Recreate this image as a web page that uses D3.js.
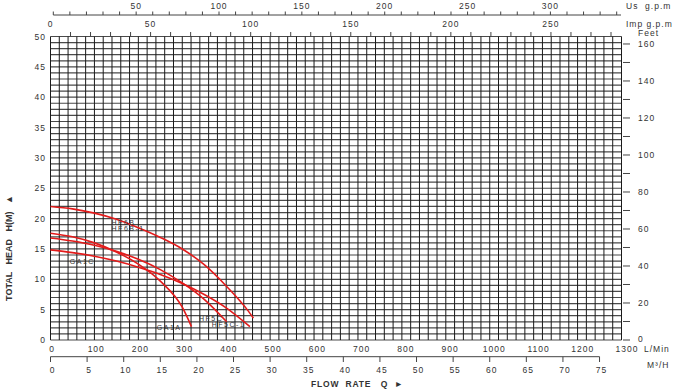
<!DOCTYPE html>
<html>
<head>
<meta charset="utf-8">
<script src="https://cdn.jsdelivr.net/npm/d3@7"></script>
<style>
  body { margin: 0; background: #fff; }
  svg { display: block; }
  text { font-family: "Liberation Sans", Arial, sans-serif; fill: #333; }
</style>
</head>
<body>
<svg id="chart" width="680" height="389"></svg>
<script>
// flow in L/min, head in metres
const flowLabels = [0, 100, 200, 300, 400, 500, 600, 700, 800, 900, 1000, 1100, 1200, 1300];
const headLabels = [0, 5, 10, 15, 20, 25, 30, 35, 40, 45, 50];
const feetLabels = [0, 20, 40, 60, 80, 100, 120, 140, 160];
const m3hLabels = [0, 5, 10, 15, 20, 25, 30, 35, 40, 45, 50, 55, 60, 65, 70, 75];
const usLabels = [50, 100, 150, 200, 250, 300];
const impLabels = [0, 50, 100, 150, 200, 250];

const hf6bQ = [0, 50, 100, 150, 200, 250, 300, 350, 400, 450, 462];
const hf6bH = [22.0, 21.6, 20.9, 19.9, 18.5, 16.9, 15.0, 12.4, 8.9, 4.8, 3.6];
const ga1aQ = [0, 50, 100, 150, 200, 250, 300, 321];
const ga1aH = [17.6, 17.0, 16.0, 14.5, 12.5, 9.7, 5.4, 2.2];
const hf5cQ = [0, 50, 100, 150, 200, 250, 300, 350, 401];
const hf5cH = [16.8, 16.3, 15.6, 14.6, 13.3, 11.6, 9.4, 6.7, 3.0];
const ga1cQ = [0, 50, 100, 150, 200, 250, 300, 350, 400, 454];
const ga1cH = [14.85, 14.4, 13.8, 13.0, 12.0, 10.8, 9.3, 7.5, 5.3, 2.2];

const curveNames = ["HF6B", "HF6B-1", "GA1C", "GA1A", "HF5C", "HF5C-1"];
const nameQ = [139, 139, 44, 242, 338, 367];
const nameH = [19.0, 18.0, 12.6, 1.7, 3.2, 2.2];

const svg = d3.select("#chart");

const x = d3.scaleLinear().domain([0, 1300]).range([50.5, 621.5]);
const xLab = d3.scaleLinear().domain([0, 1300]).range([52, 627]);
const y = d3.scaleLinear().domain([0, 50]).range([340, 36.5]);
const yFeet = d3.scaleLinear().domain([0, 50 / 0.3048]).range([340, 36.5]);
const xUs = d3.scaleLinear().domain([0, 340]).range([53.3, 616.7]);
const xImp = d3.scaleLinear().domain([0, 280]).range([50.5, 611]);

// grid
const grid = svg.append("g");
grid.selectAll(".h").data(d3.range(0, 51)).enter().append("line")
  .attr("x1", x(0)).attr("x2", x(1300))
  .attr("y1", d => y(d)).attr("y2", d => y(d))
  .attr("stroke", "#4a4a4a").attr("stroke-width", 1.2);
grid.selectAll(".v").data(d3.range(0, 1301, 20)).enter().append("line")
  .attr("x1", d => x(d)).attr("x2", d => x(d))
  .attr("y1", y(0)).attr("y2", y(50))
  .attr("stroke", "#1a1a1a").attr("stroke-width", 1);

// left head labels
svg.selectAll(".hl").data(headLabels).enter().append("text")
  .attr("x", 46).attr("y", d => y(d) + 3)
  .attr("text-anchor", "end").attr("font-size", 8.5).attr("letter-spacing", 1)
  .text(d => d);

// right feet axis
svg.selectAll(".ft").data(d3.range(0, 161, 10)).enter().append("line")
  .attr("x1", 623).attr("x2", 630)
  .attr("y1", d => yFeet(d)).attr("y2", d => yFeet(d))
  .attr("stroke", "#444");
svg.selectAll(".fl").data(feetLabels).enter().append("text")
  .attr("x", 638).attr("y", d => yFeet(d) + (d === 0 ? 1.5 : 3))
  .attr("font-size", 8.5).attr("letter-spacing", 1)
  .text(d => d);
svg.append("text").attr("x", 638).attr("y", 36)
  .attr("font-size", 8.5).attr("letter-spacing", 1).text("Feet");

// bottom L/min labels
svg.selectAll(".ql").data(flowLabels).enter().append("text")
  .attr("x", d => xLab(d)).attr("y", 352)
  .attr("text-anchor", "middle").attr("font-size", 8.5).attr("letter-spacing", 1)
  .text(d => d);
svg.append("text").attr("x", 644).attr("y", 352)
  .attr("font-size", 8.5).attr("letter-spacing", 1).text("L/Min");

// M3/H axis
const xM3 = d => x(d * 1000 / 60);
svg.append("line").attr("x1", xM3(0)).attr("x2", xM3(75))
  .attr("y1", 356.7).attr("y2", 356.7).attr("stroke", "#444");
svg.selectAll(".mt").data(m3hLabels).enter().append("line")
  .attr("x1", d => xM3(d)).attr("x2", d => xM3(d))
  .attr("y1", 356.7).attr("y2", 362).attr("stroke", "#444");
svg.selectAll(".ml").data(m3hLabels).enter().append("text")
  .attr("x", d => xM3(d) + 2).attr("y", 373)
  .attr("text-anchor", "middle").attr("font-size", 8.5).attr("letter-spacing", 1)
  .text(d => d);
svg.append("text").attr("x", 647).attr("y", 368)
  .attr("font-size", 8.5).attr("letter-spacing", 1).text("M³/H");

// US gpm axis
svg.append("line").attr("x1", xUs(0)).attr("x2", 621)
  .attr("y1", 15).attr("y2", 15).attr("stroke", "#444");
svg.selectAll(".ut").data(d3.range(0, 341, 10)).enter().append("line")
  .attr("x1", d => xUs(d)).attr("x2", d => xUs(d))
  .attr("y1", 11.5).attr("y2", 15).attr("stroke", "#444");
svg.selectAll(".ul").data(usLabels).enter().append("text")
  .attr("x", d => xUs(d)).attr("y", 9)
  .attr("text-anchor", "middle").attr("font-size", 8.5).attr("letter-spacing", 1)
  .text(d => d);
svg.append("text").attr("x", 626).attr("y", 9)
  .attr("xml:space", "preserve")
  .attr("font-size", 8.5).attr("letter-spacing", 1).text("Us  g.p.m");

// Imp gpm axis
svg.selectAll(".it").data(d3.range(10, 281, 10)).enter().append("line")
  .attr("x1", d => xImp(d)).attr("x2", d => xImp(d))
  .attr("y1", 32).attr("y2", 36.5).attr("stroke", "#444");
svg.selectAll(".il").data(impLabels).enter().append("text")
  .attr("x", d => xImp(d)).attr("y", 27)
  .attr("text-anchor", "middle").attr("font-size", 8.5).attr("letter-spacing", 1)
  .text(d => d);
svg.append("text").attr("x", 626).attr("y", 27)
  .attr("font-size", 8.5).attr("letter-spacing", 1).text("Imp g.p.m");

// curves
const line = d3.line().curve(d3.curveMonotoneX)
  .x(d => x(d[0])).y(d => y(d[1]));
[[hf6bQ, hf6bH], [ga1aQ, ga1aH], [hf5cQ, hf5cH], [ga1cQ, ga1cH]].forEach(([q, h]) => {
  svg.append("path")
    .datum(q.map((v, i) => [v, h[i]]))
    .attr("fill", "none")
    .attr("stroke", "#e31b1b")
    .attr("stroke-width", 1.6)
    .attr("d", line);
});

// curve names
svg.selectAll(".cn").data(curveNames).enter().append("text")
  .attr("x", (d, i) => x(nameQ[i])).attr("y", (d, i) => y(nameH[i]))
  .attr("font-size", 7).attr("letter-spacing", 1.5).attr("fill", "#222")
  .text(d => d);

// axis titles
svg.append("text")
  .attr("transform", "translate(12,248) rotate(-90)")
  .attr("text-anchor", "middle")
  .attr("xml:space", "preserve")
  .attr("font-family", "'Liberation Sans Narrow', 'DejaVu Sans Condensed', sans-serif")
  .attr("font-weight", "bold").attr("font-size", 9)
  .text("TOTAL   HEAD   H(M)   ▲");

svg.append("text")
  .attr("x", 311).attr("y", 387)
  .attr("xml:space", "preserve")
  .attr("font-weight", "bold").attr("font-size", 8.5).attr("letter-spacing", 0.8)
  .text("FLOW  RATE   Q  ►");
</script>
</body>
</html>
